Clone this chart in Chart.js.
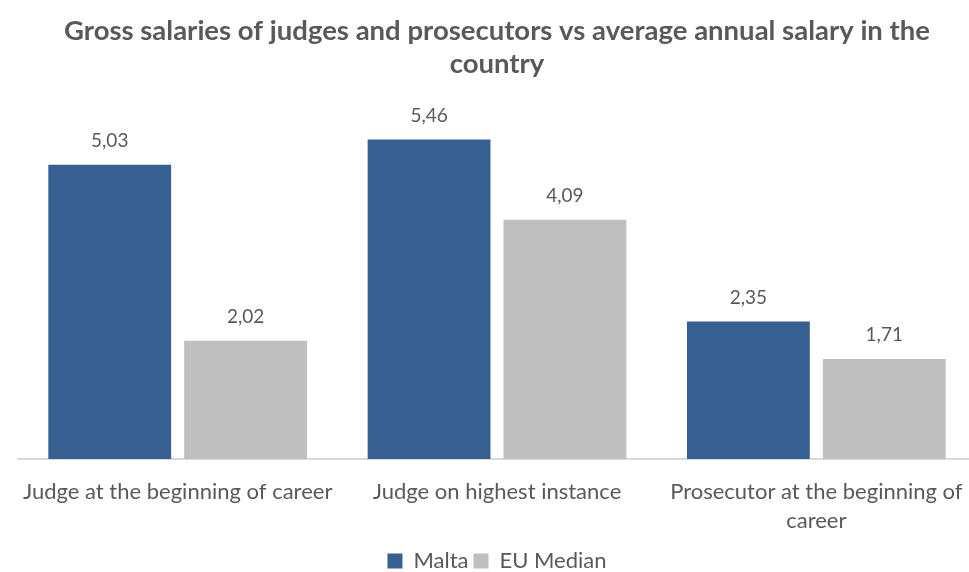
<!DOCTYPE html>
<html>
<head>
<meta charset="utf-8">
<script src="https://cdn.jsdelivr.net/npm/chart.js@4"></script>
<style>
  html, body { margin: 0; padding: 0; background: #fff; overflow: hidden; }
  #wrap { width: 976px; height: 572px; }
</style>
</head>
<body>
<div id="wrap"><canvas id="salaryChart" width="976" height="572"></canvas></div>
<script>
const categories = [
    'Judge at the beginning of career',
    'Judge on highest instance',
    ['Prosecutor at the beginning of', 'career']
];
const maltaValues = [5.03, 5.46, 2.35];
const euMedianValues = [2.02, 4.09, 1.71];
const seriesNames = ['Malta', 'EU Median'];

const FONT = 'Lato, "Open Sans", sans-serif';
const TEXT_COLOR = '#595959';

// ve nhan gia tri tren moi cot (dau phay thap phan)
const valueLabels = {
    id: 'valueLabels',
    afterDatasetsDraw(chart) {
        const ctx = chart.ctx;
        ctx.save();
        ctx.font = '19px ' + FONT;
        ctx.fillStyle = TEXT_COLOR;
        ctx.textAlign = 'center';
        ctx.textBaseline = 'middle';
        chart.data.datasets.forEach((ds, i) => {
            chart.getDatasetMeta(i).data.forEach((bar, j) => {
                const txt = ds.data[j].toFixed(2).replace('.', ',');
                ctx.fillText(txt, bar.x, bar.y - 24);
            });
        });
        ctx.restore();
    }
};

const ctx = document.getElementById('salaryChart').getContext('2d');
new Chart(ctx, {
    type: 'bar',
    data: {
        labels: categories,
        datasets: [
            { label: seriesNames[0], data: maltaValues, backgroundColor: '#366092' },
            { label: seriesNames[1], data: euMedianValues, backgroundColor: '#BFBFBF' }
        ]
    },
    options: {
        responsive: false,
        animation: false,
        datasets: { bar: { categoryPercentage: 0.851, barPercentage: 0.904 } },
        layout: { padding: { left: 18, right: 0, top: 15, bottom: -10 } },
        plugins: {
            title: {
                display: true,
                text: ['Gross salaries of judges and prosecutors vs average annual salary in the', 'country'],
                color: TEXT_COLOR,
                font: { family: FONT, size: 27.5, weight: 'bold' },
                lineHeight: 1.4,
                padding: { top: 0, bottom: 27 }
            },
            legend: {
                position: 'bottom',
                labels: {
                    color: TEXT_COLOR,
                    font: { family: FONT, size: 22 },
                    boxWidth: 15,
                    boxHeight: 15,
                    padding: 5
                }
            },
            tooltip: { enabled: false }
        },
        scales: {
            x: {
                grid: { display: false },
                border: { display: true, color: '#D9D9D9', width: 2 },
                ticks: {
                    color: TEXT_COLOR,
                    font: { family: FONT, size: 22, lineHeight: 1.32 },
                    padding: 10,
                    maxRotation: 0,
                    autoSkip: false
                }
            },
            y: {
                display: false,
                min: 0,
                max: 6
            }
        }
    },
    plugins: [valueLabels]
});
</script>
</body>
</html>
